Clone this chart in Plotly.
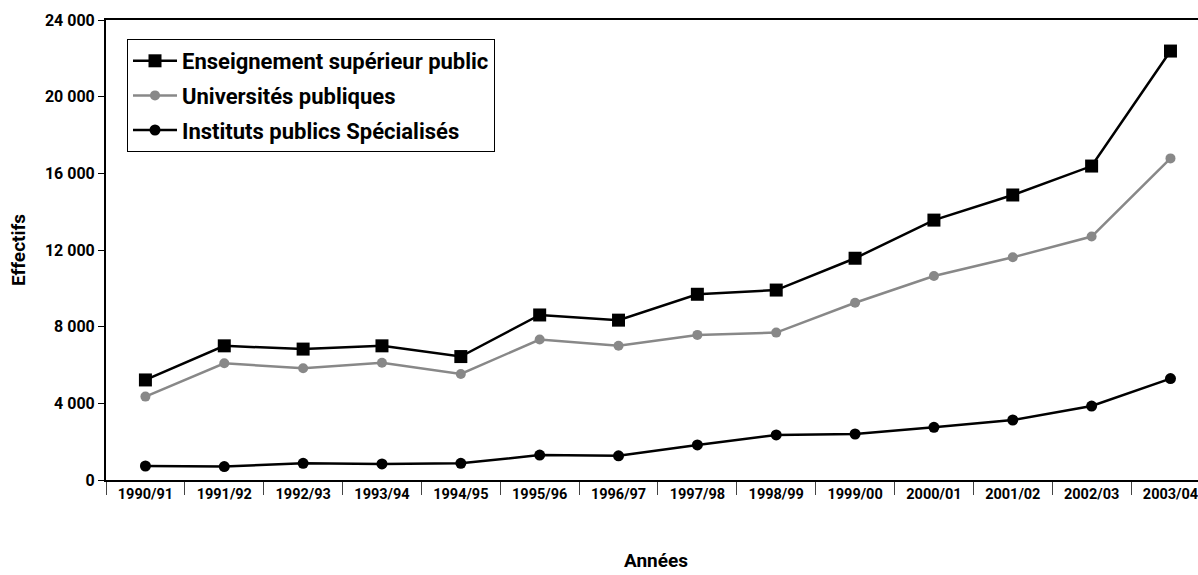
import plotly.graph_objects as go

years = ["1990/91", "1991/92", "1992/93", "1993/94", "1994/95", "1995/96", "1996/97",
         "1997/98", "1998/99", "1999/00", "2000/01", "2001/02", "2002/03", "2003/04"]
ens_sup_public = [5220, 7000, 6830, 7000, 6440, 8610, 8340, 9690, 9910, 11570, 13560, 14870, 16380, 22380]
univ_publiques = [4350, 6090, 5830, 6120, 5530, 7330, 7000, 7570, 7690, 9250, 10640, 11620, 12700, 16780]
instituts_spec = [730, 700, 870, 840, 870, 1300, 1260, 1830, 2350, 2400, 2750, 3130, 3860, 5290]

y_ticks = [0, 4000, 8000, 12000, 16000, 20000, 24000]
y_tick_labels = ["0", "4 000", "8 000", "12 000", "16 000", "20 000", "24 000"]

FONT = "Roboto, Liberation Sans, sans-serif"

fig = go.Figure()
fig.add_trace(go.Scatter(
    x=years, y=ens_sup_public, mode="lines+markers", name="Enseignement supérieur public",
    legendgroup="a",
    line=dict(color="black", width=2.5),
    marker=dict(symbol="square", size=13, color="black")))
fig.add_trace(go.Scatter(
    x=years, y=univ_publiques, mode="lines+markers", name="Universités publiques",
    legendgroup="b",
    line=dict(color="#888888", width=2.5),
    marker=dict(symbol="circle", size=10, color="#888888")))
fig.add_trace(go.Scatter(
    x=years, y=instituts_spec, mode="lines+markers", name="Instituts publics Spécialisés",
    legendgroup="c",
    line=dict(color="black", width=2.5),
    marker=dict(symbol="circle", size=11, color="black")))

W, H = 1198, 575
ml, mr, mt, mb = 106, 0, 20, 95
plot_w = W - ml - mr
plot_h = H - mt - mb
cat_px = 78.85
x_max = -0.5 + plot_w / cat_px

fig.update_layout(
    width=W, height=H,
    margin=dict(l=ml, r=mr, t=mt, b=mb, autoexpand=False),
    paper_bgcolor="white", plot_bgcolor="white",
    font=dict(family=FONT, color="black", size=15),
    showlegend=True,
    legend=dict(
        x=(127 - ml) / plot_w, y=(plot_h + mt - 39) / plot_h, xanchor="left", yanchor="top",
        bordercolor="black", borderwidth=1, bgcolor="white",
        font=dict(family=FONT, size=22, color="black", weight="bold"),
        itemwidth=44, tracegroupgap=3,
    ),
    xaxis=dict(
        type="category", range=[-0.5, x_max],
        showline=True, linecolor="black", linewidth=2, mirror=True,
        showgrid=False, zeroline=False,
        ticks="outside", tickson="boundaries", ticklen=13, tickwidth=1, tickcolor="#444444",
        tickfont=dict(family=FONT, size=14.5, weight="bold"),
    ),
    yaxis=dict(
        range=[0, 24000], tickvals=y_ticks, ticktext=y_tick_labels,
        showline=True, linecolor="black", linewidth=2,
        showgrid=False, zeroline=False,
        ticks="outside", ticklen=6, tickwidth=1, tickcolor="black",
        tickfont=dict(family=FONT, size=16, weight="bold"),
        title=dict(text="Effectifs", font=dict(family=FONT, size=19, weight="bold"), standoff=14),
    ),
    annotations=[dict(
        text="Années", xref="paper", yref="paper",
        x=(656 - ml) / plot_w, y=-(560 - (mt + plot_h)) / plot_h,
        xanchor="center", yanchor="middle", showarrow=False,
        font=dict(family=FONT, size=19, weight="bold", color="black"),
    )],
)

fig.write_html(
    "out.html",
    config={"displayModeBar": False},
    post_script="document.body.style.margin='0';document.body.style.overflow='hidden';",
)
